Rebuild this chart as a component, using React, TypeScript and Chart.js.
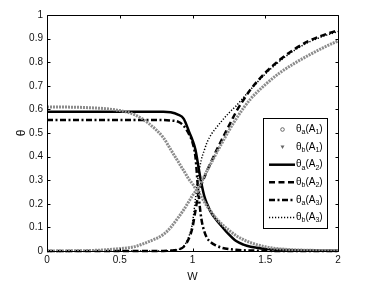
import React, { useEffect, useRef } from "react";
import { Chart, registerables } from "chart.js";
Chart.register(...registerables);

const wValues = [0, 0.1, 0.2, 0.3, 0.4, 0.5, 0.6, 0.7, 0.8, 0.85, 0.9, 0.94, 0.98, 1.0, 1.02, 1.04, 1.06, 1.08, 1.1, 1.13, 1.16, 1.2, 1.25, 1.3, 1.35, 1.4, 1.5, 1.6, 1.7, 1.8, 1.9, 2.0];

const thetaA_A1 = [0.61, 0.61, 0.609, 0.607, 0.603, 0.595, 0.578, 0.54, 0.48, 0.43, 0.38, 0.34, 0.3, 0.285, 0.265, 0.25, 0.23, 0.21, 0.19, 0.165, 0.14, 0.115, 0.088, 0.065, 0.048, 0.035, 0.018, 0.009, 0.005, 0.003, 0.002, 0.001];
const thetaB_A1 = [0, 0, 0.001, 0.002, 0.005, 0.01, 0.018, 0.04, 0.07, 0.1, 0.14, 0.175, 0.215, 0.235, 0.252, 0.268, 0.29, 0.315, 0.34, 0.375, 0.41, 0.455, 0.51, 0.56, 0.605, 0.645, 0.705, 0.755, 0.795, 0.83, 0.862, 0.89];
const thetaA_A2 = [0.59, 0.59, 0.59, 0.59, 0.59, 0.59, 0.59, 0.59, 0.59, 0.588, 0.578, 0.56, 0.5, 0.47, 0.43, 0.36, 0.29, 0.235, 0.2, 0.16, 0.135, 0.105, 0.07, 0.042, 0.027, 0.018, 0.009, 0.005, 0.003, 0.002, 0.001, 0.001];
const thetaB_A2 = [0, 0, 0, 0, 0, 0, 0, 0, 0, 0.002, 0.006, 0.018, 0.06, 0.1, 0.17, 0.24, 0.28, 0.31, 0.34, 0.38, 0.42, 0.47, 0.53, 0.59, 0.64, 0.685, 0.755, 0.81, 0.855, 0.89, 0.915, 0.935];
const thetaA_A3 = [0.555, 0.555, 0.555, 0.555, 0.555, 0.555, 0.555, 0.555, 0.555, 0.553, 0.548, 0.53, 0.49, 0.46, 0.4, 0.25, 0.14, 0.085, 0.055, 0.035, 0.024, 0.014, 0.008, 0.005, 0.003, 0.002, 0.001, 0, 0, 0, 0, 0];
const thetaB_A3 = [0, 0, 0, 0, 0, 0, 0, 0, 0, 0.002, 0.006, 0.02, 0.07, 0.12, 0.22, 0.32, 0.385, 0.425, 0.46, 0.495, 0.52, 0.55, 0.585, 0.615, 0.65, 0.685, 0.75, 0.805, 0.85, 0.885, 0.91, 0.93];

const xTicks = [0, 0.5, 1, 1.5, 2];
const yTicks = [0, 0.1, 0.2, 0.3, 0.4, 0.5, 0.6, 0.7, 0.8, 0.9, 1];

const legendParts = [
  ["θ", "a", "(A", "1", ")"],
  ["θ", "b", "(A", "1", ")"],
  ["θ", "a", "(A", "2", ")"],
  ["θ", "b", "(A", "2", ")"],
  ["θ", "a", "(A", "3", ")"],
  ["θ", "b", "(A", "3", ")"],
];

const FONT = "'Liberation Sans', Arial, sans-serif";

const framePlugin = {
  id: "frameTicks",
  afterDraw(chart: any) {
    const { ctx, chartArea } = chart;
    const xs = chart.scales.x;
    const ys = chart.scales.y;
    const L = Math.round(chartArea.left) + 0.5;
    const R = Math.round(chartArea.right) + 0.5;
    const T = Math.round(chartArea.top) + 0.5;
    const B = Math.round(chartArea.bottom) + 0.5;
    const tl = 3;
    ctx.save();
    ctx.strokeStyle = "#000";
    ctx.lineWidth = 1;
    ctx.beginPath();
    ctx.rect(L, T, R - L, B - T);
    xTicks.forEach((v) => {
      const px = Math.round(xs.getPixelForValue(v)) + 0.5;
      ctx.moveTo(px, B);
      ctx.lineTo(px, B - tl);
      ctx.moveTo(px, T);
      ctx.lineTo(px, T + tl);
    });
    yTicks.forEach((v) => {
      const py = Math.round(ys.getPixelForValue(v)) + 0.5;
      ctx.moveTo(L, py);
      ctx.lineTo(L + tl, py);
      ctx.moveTo(R, py);
      ctx.lineTo(R - tl, py);
    });
    ctx.stroke();
    ctx.restore();
  },
};

const legendPlugin = {
  id: "boxLegend",
  afterDraw(chart: any) {
    const { ctx, chartArea } = chart;
    const bx = Math.round(chartArea.right) - 75;
    const by = Math.round(chartArea.top) + 103;
    const bw = 64;
    const bh = 110;
    ctx.save();
    ctx.fillStyle = "#fff";
    ctx.fillRect(bx, by, bw, bh);
    ctx.strokeStyle = "#000";
    ctx.lineWidth = 1;
    ctx.strokeRect(bx + 0.5, by + 0.5, bw, bh);
    chart.data.datasets.forEach((ds: any, i: number) => {
      const cy = by + 11.5 + i * 17.6;
      const sx0 = bx + 6;
      const sx1 = bx + 32;
      const mx = bx + 19.5;
      if (ds.legendMarker === "circle") {
        ctx.beginPath();
        ctx.strokeStyle = "#666";
        ctx.lineWidth = 1;
        ctx.arc(mx, cy, 1.8, 0, Math.PI * 2);
        ctx.stroke();
      } else if (ds.legendMarker === "triangle") {
        ctx.beginPath();
        ctx.fillStyle = "#666";
        ctx.moveTo(mx - 2, cy - 1.5);
        ctx.lineTo(mx + 2, cy - 1.5);
        ctx.lineTo(mx, cy + 2);
        ctx.closePath();
        ctx.fill();
      } else {
        ctx.beginPath();
        ctx.strokeStyle = ds.borderColor;
        ctx.lineWidth = ds.borderWidth;
        ctx.setLineDash(ds.borderDash || []);
        ctx.moveTo(sx0, cy);
        ctx.lineTo(sx1, cy);
        ctx.stroke();
        ctx.setLineDash([]);
      }
      const parts = legendParts[i];
      let tx = bx + 33;
      ctx.fillStyle = "#000";
      ctx.textBaseline = "middle";
      ctx.textAlign = "left";
      parts.forEach((p, k) => {
        const isSub = k === 1 || k === 3;
        ctx.font = (isSub ? "7px " : "10px ") + FONT;
        ctx.fillText(p, tx, isSub ? cy + 3 : cy);
        tx += ctx.measureText(p).width;
      });
    });
    ctx.restore();
  },
};

function pts(arr: number[]) {
  return wValues.map((w, i) => ({ x: w, y: arr[i] }));
}

export default function App() {
  const ref = useRef<HTMLCanvasElement | null>(null);
  useEffect(() => {
    if (!ref.current) return;
    const common = {
      pointRadius: 0,
      fill: false,
      cubicInterpolationMode: "monotone" as const,
      clip: false as any,
    };
    const chart = new Chart(ref.current, {
      type: "line",
      data: {
        datasets: [
          { ...common, data: pts(thetaA_A1), borderColor: "#8c8c8c", borderWidth: 3, borderDash: [2, 1], legendMarker: "circle" } as any,
          { ...common, data: pts(thetaB_A1), borderColor: "#8c8c8c", borderWidth: 3, borderDash: [2, 1], legendMarker: "triangle" } as any,
          { ...common, data: pts(thetaA_A2), borderColor: "#000", borderWidth: 2.5 } as any,
          { ...common, data: pts(thetaB_A2), borderColor: "#000", borderWidth: 2.5, borderDash: [6, 3.5] } as any,
          { ...common, data: pts(thetaA_A3), borderColor: "#000", borderWidth: 2.5, borderDash: [6, 2.5, 2, 2.5] } as any,
          { ...common, data: pts(thetaB_A3), borderColor: "#000", borderWidth: 1.5, borderDash: [1.2, 1.8] } as any,
        ],
      },
      options: {
        animation: false,
        responsive: true,
        maintainAspectRatio: false,
        layout: { padding: { top: 15, right: 36, left: 0, bottom: 0 } },
        plugins: { legend: { display: false }, tooltip: { enabled: false } },
        scales: {
          x: {
            type: "linear",
            min: 0,
            max: 2,
            afterFit: (s: any) => { s.height = 40; },
            afterBuildTicks: (s: any) => { s.ticks = xTicks.map((v) => ({ value: v })); },
            grid: { display: false, drawTicks: false },
            border: { display: false },
            ticks: {
              padding: 3,
              color: "#111",
              font: { family: FONT, size: 10 },
              callback: (v: any) => String(v),
              maxRotation: 0,
            },
            title: {
              display: true,
              text: "W",
              color: "#111",
              font: { family: FONT, size: 11 },
              padding: { top: 0, bottom: 7 },
            },
          },
          y: {
            type: "linear",
            min: 0,
            max: 1,
            afterFit: (s: any) => { s.width = 47; },
            afterBuildTicks: (s: any) => { s.ticks = yTicks.map((v) => ({ value: v })); },
            grid: { display: false, drawTicks: false },
            border: { display: false },
            ticks: {
              padding: 4,
              color: "#111",
              font: { family: FONT, size: 10 },
              callback: (v: any) => String(Math.round(Number(v) * 10) / 10),
            },
            title: {
              display: true,
              text: "θ",
              color: "#111",
              font: { family: FONT, size: 12 },
              padding: { top: 14, bottom: 0 },
            },
          },
        },
      },
      plugins: [framePlugin, legendPlugin],
    } as any);
    return () => chart.destroy();
  }, []);
  return (
    <div style={{ position: "fixed", left: 0, top: 0, width: 374, height: 291, background: "#fff" }}>
      <canvas ref={ref} />
    </div>
  );
}
